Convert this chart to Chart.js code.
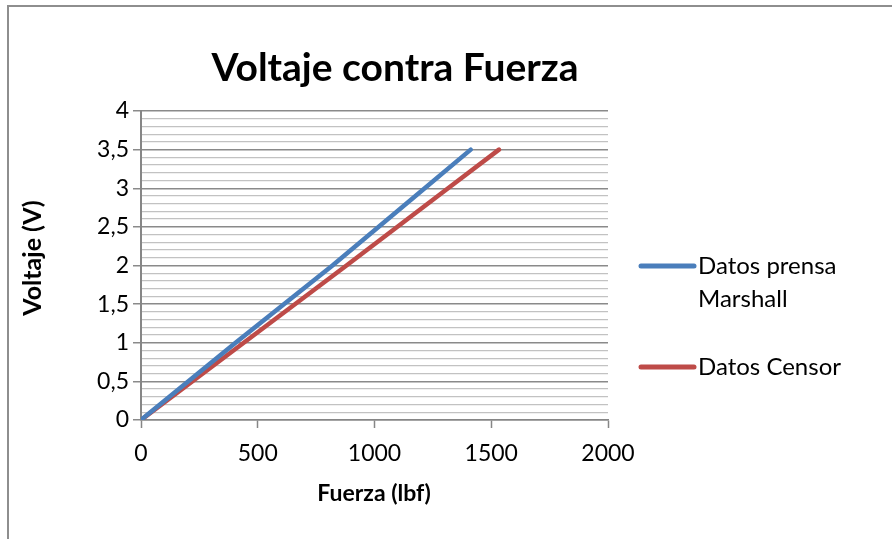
<!DOCTYPE html>
<html>
<head>
<meta charset="utf-8">
<script src="https://cdn.jsdelivr.net/npm/chart.js@4.4.0/dist/chart.umd.min.js"></script>
<style>
  html, body { margin: 0; padding: 0; background: #fff; }
  #wrap { position: relative; width: 892px; height: 539px; overflow: hidden; }
  #frame { position: absolute; left: 7px; top: 5px; width: 900px; height: 560px;
           border-left: 2px solid #8e8e8e; border-top: 2px solid #8e8e8e; }
  canvas { position: absolute; left: 0; top: 0; }
</style>
</head>
<body>
<div id="wrap">
  <div id="frame"></div>
  <canvas id="chart" width="892" height="539"></canvas>
</div>
<script>
// Chart data
const chartTitle = "Voltaje contra Fuerza";
const xTitle = "Fuerza (lbf)";
const yTitle = "Voltaje (V)";

const seriesNames = ["Datos prensa Marshall", "Datos Censor"];
const seriesLegendLines = [["Datos prensa", "Marshall"], ["Datos Censor"]];
const seriesColors = ["#4a7ebb", "#be4b48"];

// Datos prensa Marshall
const marshallForce = [0, 405, 820, 1215, 1412];
const marshallVolt = [0, 1, 2, 3, 3.5];
// Datos Censor
const censorForce = [0, 440, 880, 1315, 1533];
const censorVolt = [0, 1, 2, 3, 3.5];

const xTicks = [0, 500, 1000, 1500, 2000];
const yTicks = [0, 0.5, 1, 1.5, 2, 2.5, 3, 3.5, 4];

const toPoints = (xs, ys) => xs.map((x, i) => ({ x: x, y: ys[i] }));
const isMajor = v => yTicks.some(t => Math.abs(t - v) < 1e-6);

const FONT = "Lato, 'Open Sans', sans-serif";

// title, axis titles and legend drawn by hand, Excel style
const decorPlugin = {
  id: "decor",
  afterDraw(chart) {
    const ctx = chart.ctx;
    ctx.save();
    ctx.fillStyle = "#000";
    ctx.textBaseline = "middle";

    ctx.font = "bold 39px " + FONT;
    ctx.textAlign = "center";
    ctx.fillText(chartTitle, 395, 68);

    ctx.font = "bold 23px " + FONT;
    ctx.fillText(xTitle, 374, 494);

    ctx.save();
    ctx.translate(33, 258);
    ctx.rotate(-Math.PI / 2);
    ctx.font = "bold 25px " + FONT;
    ctx.fillText(yTitle, 0, 0);
    ctx.restore();

    // legend
    const rows = [266, 367];
    ctx.font = "24px " + FONT;
    ctx.textAlign = "left";
    seriesNames.forEach((name, i) => {
      const y = rows[i];
      ctx.strokeStyle = seriesColors[i];
      ctx.lineWidth = 5;
      ctx.lineCap = "round";
      ctx.beginPath();
      ctx.moveTo(641, y);
      ctx.lineTo(694, y);
      ctx.stroke();
      seriesLegendLines[i].forEach((line, j) => {
        ctx.fillText(line, 698, y + j * 33);
      });
    });
    ctx.restore();
  }
};

new Chart(document.getElementById("chart"), {
  type: "scatter",
  data: {
    datasets: [
      {
        label: seriesNames[0],
        data: toPoints(marshallForce, marshallVolt),
        showLine: true,
        borderColor: seriesColors[0],
        borderWidth: 4.5,
        pointRadius: 0,
        borderCapStyle: "round"
      },
      {
        label: seriesNames[1],
        data: toPoints(censorForce, censorVolt),
        showLine: true,
        borderColor: seriesColors[1],
        borderWidth: 4.5,
        pointRadius: 0,
        borderCapStyle: "round"
      }
    ]
  },
  options: {
    responsive: false,
    animation: false,
    layout: { padding: { left: 0, top: 111, right: 284, bottom: 0 } },
    plugins: {
      legend: { display: false },
      title: { display: false },
      tooltip: { enabled: false }
    },
    scales: {
      x: {
        type: "linear",
        min: xTicks[0],
        max: xTicks[xTicks.length - 1],
        afterFit(scale) { scale.height = 119; },
        afterBuildTicks(scale) { scale.ticks = xTicks.map(v => ({ value: v })); },
        ticks: {
          color: "#000",
          font: { family: FONT, size: 23 },
          padding: 12,
          maxRotation: 0,
          autoSkip: false,
          callback: v => String(v)
        },
        grid: {
          drawOnChartArea: false,
          tickLength: 8,
          tickColor: "#868686",
          tickWidth: 1.5
        },
        border: { color: "#868686", width: 1.5 }
      },
      y: {
        type: "linear",
        min: yTicks[0],
        max: yTicks[yTicks.length - 1],
        afterFit(scale) { scale.width = 141; },
        ticks: {
          stepSize: 0.1,
          autoSkip: false,
          color: "#000",
          font: { family: FONT, size: 23 },
          padding: 4,
          callback(v) {
            const r = Math.round(v * 10) / 10;
            return isMajor(r) ? String(r).replace(".", ",") : "";
          }
        },
        grid: {
          tickLength: 8,
          lineWidth(c) {
            return isMajor(Math.round(c.tick.value * 10) / 10) ? 1.5 : 1.3;
          },
          color(c) {
            return isMajor(Math.round(c.tick.value * 10) / 10) ? "#8a8a8a" : "#c2c2c2";
          },
          tickColor(c) {
            return isMajor(Math.round(c.tick.value * 10) / 10) ? "#8a8a8a" : "rgba(0,0,0,0)";
          }
        },
        border: { color: "#868686", width: 2 }
      }
    }
  },
  plugins: [decorPlugin]
});
</script>
</body>
</html>
